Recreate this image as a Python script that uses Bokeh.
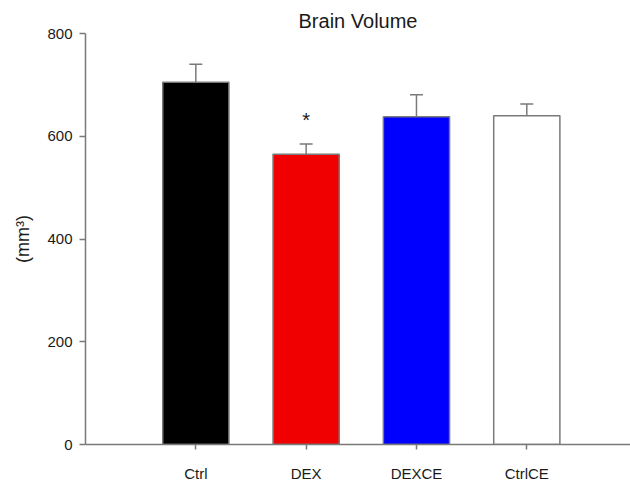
from bokeh.plotting import figure
from bokeh.models import ColumnDataSource, FixedTicker, Whisker, TeeHead, Range1d
from bokeh.core.properties import value
from bokeh.embed import file_html
from bokeh.resources import INLINE

categories = ["Ctrl", "DEX", "DEXCE", "CtrlCE"]
means = [705, 565, 638, 640]
errors = [35, 20, 43, 23]
colors = ["#000000", "#f00000", "#0000ff", "#ffffff"]
marks = ["", "*", "", ""]
y_ticks = [0, 200, 400, 600, 800]

xs = list(range(1, len(categories) + 1))
upper = [m + e for m, e in zip(means, errors)]

src = ColumnDataSource(dict(x=xs, top=means, upper=upper, color=colors, mark=marks))

FONT = "Liberation Sans"
GRAY = "#7a7a7a"

p = figure(width=630, height=484, output_backend="svg", toolbar_location=None,
           x_range=Range1d(0, 4.94), y_range=Range1d(0, 800),
           min_border_left=85, min_border_right=0, min_border_top=33, min_border_bottom=40)

p.title.text = "Brain Volume"
p.title.align = "center"
p.title.text_font = FONT
p.title.text_font_size = "20px"
p.title.text_font_style = "normal"
p.title.text_color = "#1a1a1a"
p.title.standoff = 3

p.vbar(x="x", top="top", bottom=0, width=0.6, source=src, fill_color="color",
       line_color=GRAY, line_width=1.5)

w = Whisker(base="x", lower="top", upper="upper", source=src, dimension="height",
            line_color=GRAY, line_width=1.5, level="overlay",
            upper_head=TeeHead(size=13, line_color=GRAY, line_width=1.5), lower_head=None)
p.add_layout(w)

p.text(x="x", y="upper", text="mark", source=src, text_align="center", text_baseline="middle",
       text_font=value(FONT), text_font_size="20px", text_color="#1a1a1a", y_offset=-24)

p.xgrid.visible = False
p.ygrid.visible = False
p.outline_line_color = None
p.background_fill_color = "white"

for ax in (p.xaxis[0], p.yaxis[0]):
    ax.axis_line_color = GRAY
    ax.axis_line_width = 1.5
    ax.major_tick_line_color = GRAY
    ax.major_tick_line_width = 1.5
    ax.major_tick_in = 0
    ax.minor_tick_line_color = None
    ax.major_label_text_font = FONT
    ax.major_label_text_font_size = "15px"
    ax.major_label_text_color = "#1a1a1a"

p.xaxis.ticker = FixedTicker(ticks=xs)
p.xaxis.major_label_overrides = {x: c for x, c in zip(xs, categories)}
p.xaxis.major_tick_out = 5
p.xaxis.major_label_standoff = 15

p.yaxis.ticker = FixedTicker(ticks=y_ticks)
p.yaxis.major_tick_out = 6
p.yaxis.major_label_standoff = 7
p.yaxis.axis_label = "(mm³)"
p.yaxis.axis_label_text_font = FONT
p.yaxis.axis_label_text_font_size = "18px"
p.yaxis.axis_label_text_font_style = "normal"
p.yaxis.axis_label_text_color = "#1a1a1a"
p.yaxis.axis_label_standoff = 11

open("out.html", "w").write(file_html(p, INLINE))
